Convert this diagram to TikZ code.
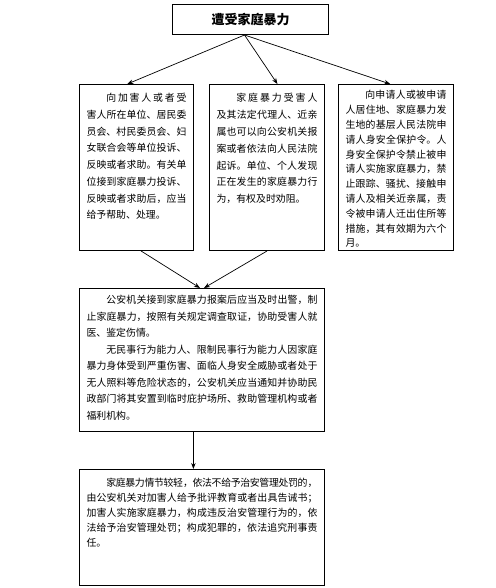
\documentclass[tikz,border=0pt]{standalone}
\usepackage{fontspec}
\setmainfont{Noto Sans CJK SC}
\usetikzlibrary{arrows.meta,calc}
\XeTeXlinebreaklocale "zh"
\XeTeXlinebreakskip=0pt plus 2pt minus 0.4pt

\newcommand{\cardbody}[4]{\parbox[c][#2][t]{#1}{\vspace*{#3}#4}}

\begin{document}
\begin{tikzpicture}[x=1pt,y=-1pt,
  card/.style={draw,line width=1pt,anchor=north west,inner xsep=7pt,inner ysep=0pt},
  flow/.style={-{Stealth[length=6pt,width=4.5pt]},line width=0.7pt}]
\useasboundingbox (0,0) rectangle (495,588);
\node[card,inner sep=0pt,minimum width=156pt,minimum height=30pt,font=\fontsize{13}{13}\selectfont\bfseries] (title) at (172,4) {遭受家庭暴力};
\node[card,font=\fontsize{9.9}{16.7}\selectfont] (victim) at (79,84) {\cardbody{100pt}{166pt}{9pt}{%
\hspace*{2em}向加害人或者受\linebreak
害人所在单位、居民委\linebreak
员会、村民委员会、妇\linebreak
女联合会等单位投诉、\linebreak
反映或者求助。有关单\linebreak
位接到家庭暴力投诉、\linebreak
反映或者求助后，应当\linebreak
给予帮助、处理。}};
\node[card,font=\fontsize{9.9}{16.8}\selectfont] (report) at (209,84) {\cardbody{101pt}{166pt}{9pt}{%
\hspace*{2em}家庭暴力受害人\linebreak
及其法定代理人、近亲\linebreak
属也可以向公安机关报\linebreak
案或者依法向人民法院\linebreak
起诉。单位、个人发现\linebreak
正在发生的家庭暴力行\linebreak
为，有权及时劝阻。}};
\node[card,font=\fontsize{9.9}{14.8}\selectfont] (order) at (338,84) {\cardbody{101pt}{166pt}{6pt}{%
\hspace*{2em}向申请人或被申请\linebreak
人居住地、家庭暴力发\linebreak
生地的基层人民法院申\linebreak
请人身安全保护令。人\linebreak
身安全保护令禁止被申\linebreak
请人实施家庭暴力，禁\linebreak
止跟踪、骚扰、接触申\linebreak
请人及相关近亲属，责\linebreak
令被申请人迁出住所等\linebreak
措施，其有效期为六个\linebreak
月。}};
\node[card,font=\fontsize{9.9}{16.5}\selectfont] (police) at (79,288) {\cardbody{231pt}{143pt}{7pt}{%
\hspace*{2em}公安机关接到家庭暴力报案后应当及时出警，制\linebreak
止家庭暴力，按照有关规定调查取证，协助受害人就\linebreak
医、鉴定伤情。\par
\hspace*{2em}无民事行为能力人、限制民事行为能力人因家庭\linebreak
暴力身体受到严重伤害、面临人身安全威胁或者处于\linebreak
无人照料等危险状态的，公安机关应当通知并协助民\linebreak
政部门将其安置到临时庇护场所、救助管理机构或者\linebreak
福利机构。}};
\node[card,font=\fontsize{9.9}{15}\selectfont] (penalty) at (79,469) {\cardbody{231pt}{116pt}{9pt}{%
\hspace*{2em}家庭暴力情节较轻，依法不给予治安管理处罚的，\linebreak
由公安机关对加害人给予批评教育或者出具告诫书；\linebreak
加害人实施家庭暴力，构成违反治安管理行为的，依\linebreak
法给予治安管理处罚；构成犯罪的，依法追究刑事责\linebreak
任。}};

\coordinate (fork) at ($(title.south)+(-6,0)$);
\draw[flow] (fork) -- ($(victim.north west)!0.42!(victim.north east)$);
\draw[flow] (fork) -- ($(report.north west)!0.59!(report.north east)$);
\draw[flow] (fork) -- ($(order.north west)!0.45!(order.north east)$);
\draw[flow] ($(victim.south west)!0.54!(victim.south east)$) -- ($(police.north)+(-2,0)$);
\draw[flow] (report.south) -- ($(police.north)+(2,0)$);
\draw[flow] ($(police.south west)!0.465!(police.south east)$) -- ($(penalty.north west)!0.465!(penalty.north east)$);
\end{tikzpicture}
\end{document}
